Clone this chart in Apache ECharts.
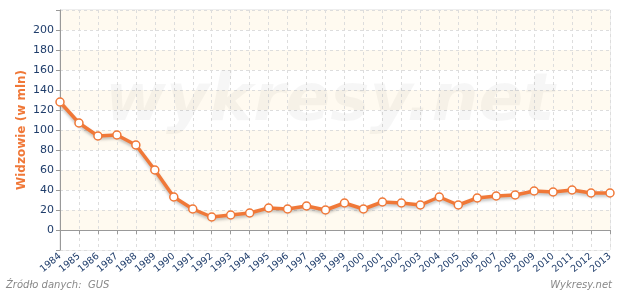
<!DOCTYPE html>
<html><head><meta charset="utf-8">
<script src="https://cdn.jsdelivr.net/npm/echarts@6/dist/echarts.min.js"></script>
<style>html,body{margin:0;padding:0;background:#fff}#c{width:620px;height:292px}</style>
</head><body><div id="c"></div>
<script>
const years = ['1984','1985','1986','1987','1988','1989','1990','1991','1992','1993','1994','1995','1996','1997','1998','1999','2000','2001','2002','2003','2004','2005','2006','2007','2008','2009','2010','2011','2012','2013'];
const viewers = [128,107,94,95,85,60,33,21,13,15,17,22,21,24,20,27,21,28,27,25,33,25,32,34,35,39,38,40,37,37];
const yTicks = {min:-20, max:220, interval:20};
const yAxisTitle = 'Widzowie (w mln)';
const sourceText = 'Źródło danych:  GUS';
const brandText = 'Wykresy.net';
const watermark = 'wykresy.net';

const chart = echarts.init(document.getElementById('c'), null, {renderer:'canvas'});
chart.setOption({
  animation:false,
  backgroundColor:'#fff',
  grid:{left:60,right:10,top:10,bottom:42,show:true,borderColor:'#dddddd',borderWidth:1},
  graphic:[
    {type:'text',left:105,top:70,z:3,silent:true,style:{text:watermark,font:'italic bold 66px "DejaVu Sans"',fill:'rgba(0,0,0,0.035)'}},
    {type:'text',x:22,y:130,rotation:Math.PI/2,style:{text:yAxisTitle,font:'bold 12px "DejaVu Sans"',fill:'#f07838',align:'center',verticalAlign:'middle'}},
    {type:'text',left:6,top:280,style:{text:sourceText,font:'italic 10px "DejaVu Sans"',fill:'#888'}},
    {type:'text',right:8,top:280,style:{text:brandText,font:'italic 10px "DejaVu Sans"',fill:'#888'}}
  ],
  xAxis:{
    type:'category',data:years,boundaryGap:false,
    axisLine:{lineStyle:{color:'#999',width:1}},
    axisTick:{show:true,length:4,lineStyle:{color:'#999'}},
    axisLabel:{rotate:40,fontSize:9.5,color:'#1f3d6b',fontFamily:'DejaVu Sans',margin:5,interval:0},
    splitLine:{show:true,lineStyle:{color:'#dddddd',type:[3,3]}}
  },
  yAxis:{
    type:'value',min:yTicks.min,max:yTicks.max,interval:yTicks.interval,
    axisLine:{show:true,lineStyle:{color:'#999'}},
    axisTick:{show:true,length:4,lineStyle:{color:'#999'}},
    axisLabel:{fontSize:11,color:'#1f3d6b',fontFamily:'DejaVu Sans',margin:6,
      formatter:v=> (v<0||v>200)?'':String(v)},
    splitLine:{show:true,lineStyle:{color:'#dddddd',type:[3,3]}},
    splitArea:{show:true,areaStyle:{color:['#ffffff','#fffaf0']}}
  },
  series:[{
    type:'line',data:viewers,symbol:'circle',symbolSize:8,
    lineStyle:{color:'#f07838',width:3.5,shadowColor:'rgba(0,0,0,0.25)',shadowBlur:3,shadowOffsetY:2},
    itemStyle:{color:'#ffffff',borderColor:'#f07838',borderWidth:1.5},
    z:5
  }]
});
</script></body></html>
